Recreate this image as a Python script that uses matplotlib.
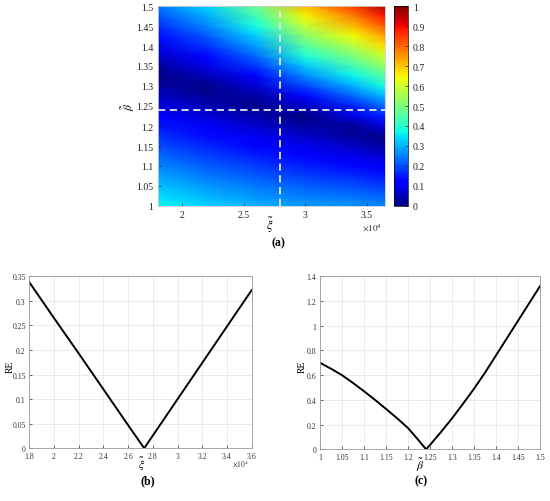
import numpy as np
import matplotlib
matplotlib.use("Agg")
import matplotlib.pyplot as plt
from matplotlib.ticker import FuncFormatter

plt.rcParams['font.family'] = ['Liberation Serif', 'DejaVu Serif']
plt.rcParams['mathtext.fontset'] = 'stix'

# ---------------- data ----------------
# heatmap grid (xi in units of 1e4, beta)
hm_xi = [1.8, 2.2, 2.6, 3.0, 3.4, 3.65]
hm_beta = [1.000, 1.025, 1.050, 1.075, 1.100, 1.125, 1.150, 1.175, 1.200, 1.225,
           1.250, 1.275, 1.300, 1.325, 1.350, 1.375, 1.400, 1.425, 1.450, 1.475, 1.500]
col_18 = [0.370, 0.342, 0.314, 0.286, 0.258, 0.230, 0.202, 0.174, 0.146, 0.118,
          0.090, 0.062, 0.034, 0.006, 0.028, 0.063, 0.099, 0.134, 0.169, 0.204, 0.240]
col_22 = [0.330, 0.302, 0.274, 0.246, 0.218, 0.190, 0.162, 0.134, 0.106, 0.078,
          0.050, 0.022, 0.008, 0.049, 0.090, 0.131, 0.172, 0.213, 0.254, 0.295, 0.336]
col_26 = [0.300, 0.271, 0.243, 0.214, 0.185, 0.156, 0.128, 0.099, 0.070, 0.041,
          0.013, 0.028, 0.078, 0.128, 0.178, 0.228, 0.278, 0.328, 0.378, 0.428, 0.478]
col_30 = [0.280, 0.249, 0.218, 0.187, 0.156, 0.125, 0.094, 0.063, 0.032, 0.001,
          0.063, 0.128, 0.193, 0.258, 0.323, 0.388, 0.453, 0.518, 0.583, 0.648, 0.713]
col_34 = [0.271, 0.235, 0.200, 0.165, 0.130, 0.094, 0.059, 0.024, 0.022, 0.091,
          0.160, 0.229, 0.298, 0.367, 0.436, 0.505, 0.574, 0.643, 0.712, 0.781, 0.850]
col_365 = [0.260, 0.222, 0.184, 0.145, 0.107, 0.069, 0.031, 0.015, 0.087, 0.160,
           0.233, 0.306, 0.378, 0.451, 0.524, 0.597, 0.669, 0.742, 0.815, 0.888, 0.960]
hm_xi_mark = 2.8
hm_beta_mark = 1.24
hm_xticks = [2, 2.5, 3, 3.5]
hm_yticks = [1, 1.05, 1.1, 1.15, 1.2, 1.25, 1.3, 1.35, 1.4, 1.45, 1.5]
cb_ticks = [0, 0.1, 0.2, 0.3, 0.4, 0.5, 0.6, 0.7, 0.8, 0.9, 1]

# panel (b): RE vs xi (units of 1e4)
b_xi = [1.8, 2.0, 2.2, 2.4, 2.6, 2.73, 2.8, 3.0, 3.2, 3.4, 3.6]
b_re = [0.338, 0.265, 0.193, 0.120, 0.047, 0.0, 0.026, 0.100, 0.174, 0.248, 0.322]
b_xticks = [1.8, 2, 2.2, 2.4, 2.6, 2.8, 3, 3.2, 3.4, 3.6]
b_yticks = [0, 0.05, 0.1, 0.15, 0.2, 0.25, 0.3, 0.35]

# panel (c): RE vs beta
c_beta = [1.0, 1.025, 1.05, 1.075, 1.1, 1.125, 1.15, 1.175, 1.2, 1.22, 1.241,
          1.25, 1.275, 1.3, 1.325, 1.35, 1.375, 1.4, 1.425, 1.45, 1.475, 1.5]
c_re = [0.700, 0.652, 0.600, 0.537, 0.470, 0.400, 0.327, 0.252, 0.172, 0.090, 0.0,
        0.035, 0.140, 0.250, 0.368, 0.490, 0.620, 0.760, 0.900, 1.040, 1.180, 1.320]
c_xticks = [1, 1.05, 1.1, 1.15, 1.2, 1.25, 1.3, 1.35, 1.4, 1.45, 1.5]
c_yticks = [0, 0.2, 0.4, 0.6, 0.8, 1, 1.2, 1.4]

# ---------------- figure ----------------
W, H = 550, 502
fig = plt.figure(figsize=(W / 100, H / 100), dpi=100)

def frac(l, t, r, b):
    return [l / W, 1 - b / H, (r - l) / W, (b - t) / H]

def ftext(x, y, s, **kw):
    kw.setdefault('ha', 'center')
    kw.setdefault('va', 'center')
    return fig.text(x / W, 1 - y / H, s, **kw)

gfmt = FuncFormatter(lambda v, p: '%g' % v)
tick_fs = 5.6

# heatmap
ax = fig.add_axes(frac(157.5, 7, 385, 207))
Z = np.array([col_18, col_22, col_26, col_30, col_34, col_365]).T
X, Y = np.meshgrid(hm_xi, hm_beta)
mesh = ax.pcolormesh(X, Y, Z, shading='gouraud', cmap='jet', vmin=0, vmax=1)
ax.axvline(hm_xi_mark, color='#e6e6e6', ls=(0, (4, 2.5)), lw=1.3)
ax.axhline(hm_beta_mark, color='#e6e6e6', ls=(0, (4, 2.5)), lw=1.3)
ax.set_xlim(1.8, 3.65)
ax.set_ylim(1, 1.5)
ax.set_xticks(hm_xticks)
ax.set_yticks(hm_yticks)
ax.xaxis.set_major_formatter(gfmt)
ax.yaxis.set_major_formatter(gfmt)
ax.tick_params(direction='in', length=2.5, width=0.5, labelsize=7, colors='#222222', pad=3)
for s in ax.spines.values():
    s.set_color('#cccccc')
    s.set_linewidth(0.6)
ftext(270, 225, r'$\tilde{\xi}$', fontsize=9)
ftext(128.5, 107, r'$\tilde{\beta}$', fontsize=8.5, rotation=90)
ftext(372, 228, r'$\times10^4$', fontsize=6.5, color='#222222')

cax = fig.add_axes(frac(394, 7, 408, 207))
cb = fig.colorbar(mesh, cax=cax, ticks=cb_ticks)
cb.ax.yaxis.set_major_formatter(gfmt)
cb.ax.tick_params(direction='in', length=2, width=0.5, labelsize=7, colors='#222222')
cb.outline.set_linewidth(0.5)

ftext(278, 243, '(a)', fontsize=8.5, fontweight='bold')

def style_line_ax(a):
    a.grid(True, color='#e3e3e3', lw=0.5)
    a.set_axisbelow(True)
    a.tick_params(direction='in', length=2, width=0.5, labelsize=tick_fs, colors='#333333', pad=2.5)
    for s in a.spines.values():
        s.set_color('#999999')
        s.set_linewidth(0.6)
    a.xaxis.set_major_formatter(gfmt)
    a.yaxis.set_major_formatter(gfmt)

# panel (b)
axb = fig.add_axes(frac(29.3, 277.3, 251.7, 449.3))
axb.plot(b_xi, b_re, color='black', lw=1.4)
axb.set_xlim(1.8, 3.6)
axb.set_ylim(0, 0.35)
axb.set_xticks(b_xticks)
axb.set_yticks(b_yticks)
style_line_ax(axb)
ftext(142, 464, r'$\tilde{\xi}$', fontsize=8.5)
ftext(10, 366.7, 'RE', fontsize=7, rotation=90)
ftext(241, 464, r'$\times10^4$', fontsize=5.5, color='#333333')
ftext(148, 481, '(b)', fontsize=8.5, fontweight='bold')

# panel (c)
axc = fig.add_axes(frac(320, 277.3, 540, 450.3))
axc.plot(c_beta, c_re, color='black', lw=1.4)
axc.set_xlim(1, 1.5)
axc.set_ylim(0, 1.4)
axc.set_xticks(c_xticks)
axc.set_yticks(c_yticks)
style_line_ax(axc)
ftext(420, 465, r'$\tilde{\beta}$', fontsize=8.5)
ftext(301.7, 366.7, 'RE', fontsize=7, rotation=90)
ftext(421, 481, '(c)', fontsize=8.5, fontweight='bold')

fig.savefig('out.png', dpi=100)
